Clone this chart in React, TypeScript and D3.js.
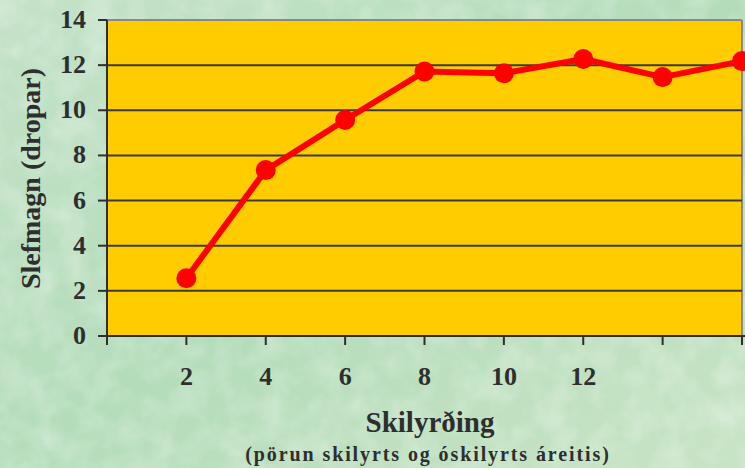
import React from "react";
import * as d3 from "d3";

const xValues = [2, 4, 6, 8, 10, 12, 14, 16];
const yValues = [2.56, 7.35, 9.57, 11.72, 11.64, 12.27, 11.47, 12.18];
const yTicks = [0, 2, 4, 6, 8, 10, 12, 14];
const xTickMarks = [2, 4, 6, 8, 10, 12, 14, 16];
const xTickLabels = ["2", "4", "6", "8", "10", "12"];
const yTitle = "Slefmagn (dropar)";
const xTitle = "Skilyrðing";
const xSubtitle = "(pörun skilyrts og óskilyrts áreitis)";

const W = 745;
const H = 468;
const left = 107;
const right = 742;
const top = 20;
const bottom = 336;

export default function App() {
  const x = d3.scaleLinear().domain([0, 16]).range([left, right]);
  const y = d3.scaleLinear().domain([0, 14]).range([bottom, top]);
  const line = d3
    .line<number>()
    .x((_, i) => x(xValues[i]))
    .y((d) => y(d));
  const ff = { fontFamily: "Liberation Serif" };
  const ink = "#2e2e2e";
  return (
    <svg
      width={W}
      height={H}
      style={{ position: "fixed", left: 0, top: 0, display: "block" }}
    >
      <defs>
        <linearGradient id="bg" x1="0" y1="0" x2="1" y2="1">
          <stop offset="0" stopColor="#c4e2c8" />
          <stop offset="0.5" stopColor="#b4dcba" />
          <stop offset="1" stopColor="#c8e4c6" />
        </linearGradient>
        <filter id="tex" x="0" y="0" width="100%" height="100%">
          <feTurbulence type="fractalNoise" baseFrequency="0.035" numOctaves="3" seed="4" result="n" />
          <feColorMatrix
            in="n"
            type="matrix"
            values="0 0 0 0 1  0 0 0 0 1  0 0 0 0 1  1.4 0 0 0 -0.5"
          />
        </filter>
        <clipPath id="clip">
          <rect x={0} y={0} width={W} height={H} />
        </clipPath>
      </defs>
      <rect x={0} y={0} width={W} height={H} fill="url(#bg)" />
      <rect x={0} y={0} width={W} height={H} filter="url(#tex)" opacity={0.4} />
      <rect x={left} y={top} width={right - left} height={bottom - top} fill="#FFCC00" />
      <line x1={left} x2={right} y1={top} y2={top} stroke="#888" strokeWidth={2} />
      <line x1={right} x2={right} y1={top} y2={bottom} stroke="#888" strokeWidth={2} />
      {yTicks.filter((t) => t > 0 && t < 14).map((t) => (
        <line key={t} x1={left} x2={right} y1={y(t)} y2={y(t)} stroke="#3a3a3a" strokeWidth={2} />
      ))}
      {yTicks.map((t) => (
        <g key={"yt" + t}>
          <line x1={left - 9} x2={left} y1={y(t)} y2={y(t)} stroke={ink} strokeWidth={2} />
          <text
            x={left - 21}
            y={y(t) + 8}
            textAnchor="end"
            fontSize={26}
            fontWeight="bold"
            fill={ink}
            style={ff}
          >
            {t}
          </text>
        </g>
      ))}
      <line x1={left} x2={left} y1={top} y2={bottom + 9} stroke={ink} strokeWidth={2} />
      <line x1={left - 9} x2={W} y1={bottom} y2={bottom} stroke={ink} strokeWidth={2} />
      {xTickMarks.map((t) => (
        <line key={"xt" + t} x1={x(t)} x2={x(t)} y1={bottom} y2={bottom + 9} stroke={ink} strokeWidth={2} />
      ))}
      {xTickLabels.map((l) => (
        <text
          key={"xl" + l}
          x={x(+l)}
          y={385}
          textAnchor="middle"
          fontSize={26}
          fontWeight="bold"
          fill={ink}
          style={ff}
        >
          {l}
        </text>
      ))}
      <g clipPath="url(#clip)">
        <path d={line(yValues) || ""} fill="none" stroke="#FF0000" strokeWidth={6} strokeLinejoin="round" />
        {yValues.map((v, i) => (
          <circle key={i} cx={x(xValues[i])} cy={y(v)} r={10} fill="#FF0000" />
        ))}
      </g>
      <text
        transform={`translate(40,178.5) rotate(-90)`}
        textAnchor="middle"
        fontSize={28}
        fontWeight="bold"
        fill={ink}
        style={ff}
      >
        {yTitle}
      </text>
      <text x={430} y={432} textAnchor="middle" fontSize={29} fontWeight="bold" fill={ink} style={ff}>
        {xTitle}
      </text>
      <text
        x={428}
        y={461}
        textAnchor="middle"
        fontSize={20}
        fontWeight="bold"
        letterSpacing={1.9}
        fill={ink}
        style={ff}
      >
        {xSubtitle}
      </text>
    </svg>
  );
}
